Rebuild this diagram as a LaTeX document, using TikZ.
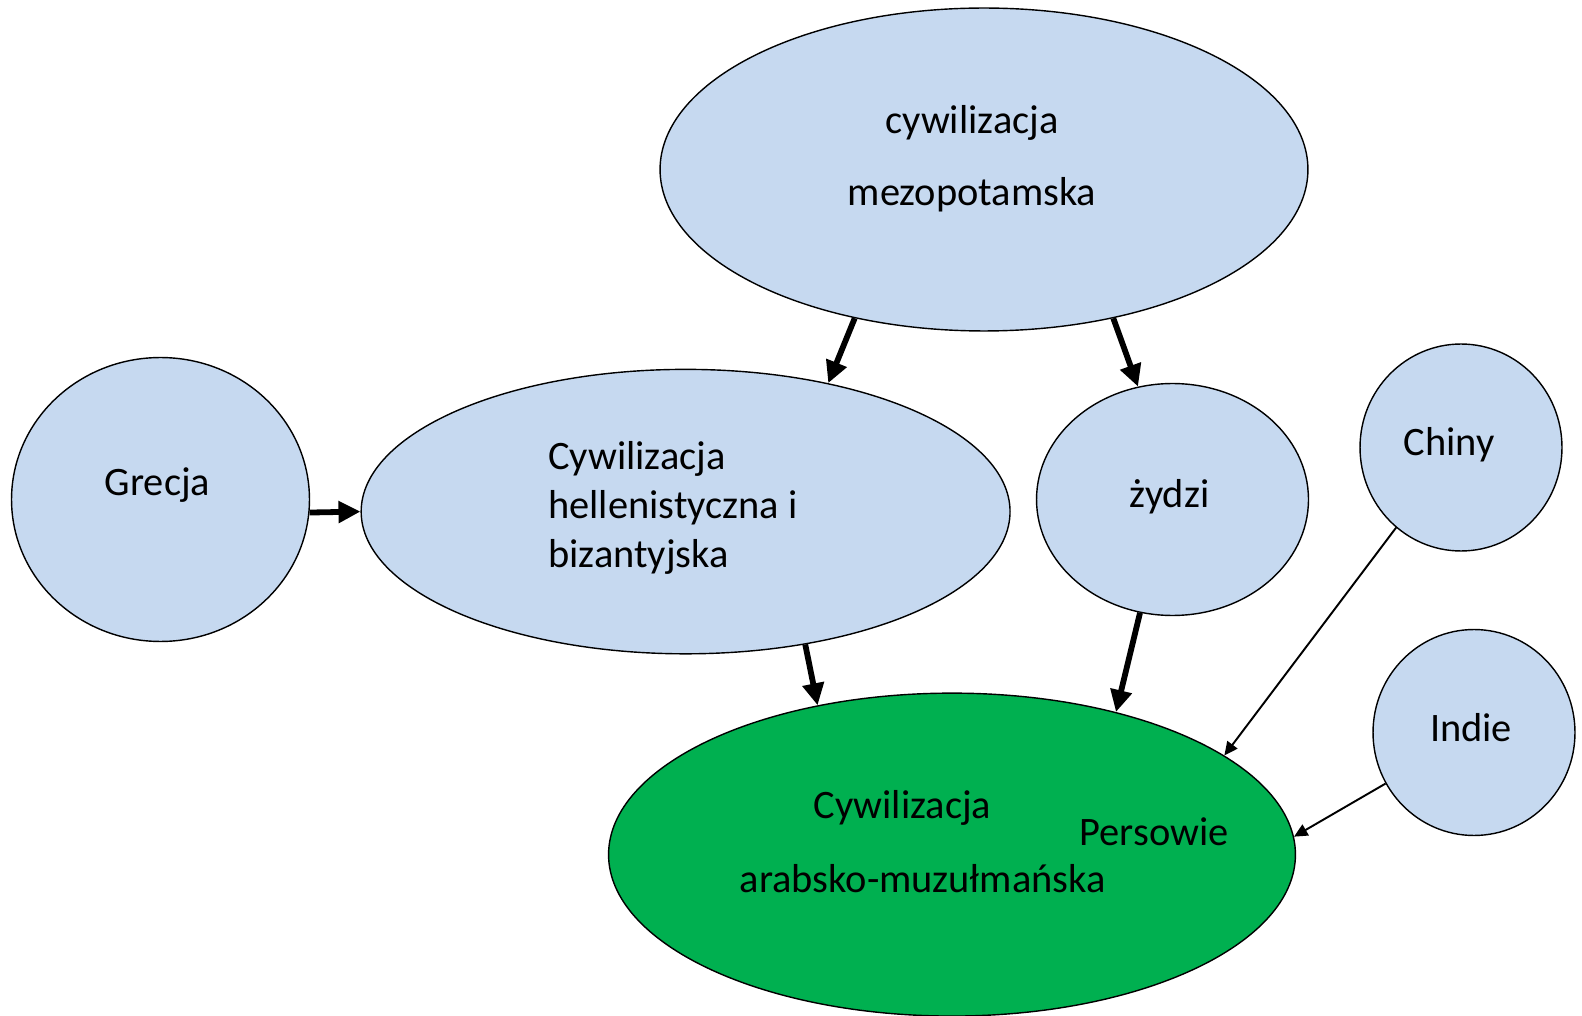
\documentclass[tikz,border=0pt]{standalone}
\usepackage{fontspec}
\setmainfont{Carlito}
\usetikzlibrary{shapes.geometric,arrows.meta}
\definecolor{civblue}{RGB}{198,217,240}
\definecolor{civgreen}{RGB}{0,176,80}
\begin{document}
\begin{tikzpicture}[x=0.02cm, y=-0.02cm,
		civ/.style={ellipse, draw, line width=.8pt, fill=civblue, inner sep=0pt},
		txt/.style={anchor=base, inner sep=0pt, font=\fontsize{23}{28}\selectfont},
		bigarrow/.style={line width=3.3pt, -{Triangle[length=.44cm, width=.42cm]}},
		thinarrow/.style={line width=1.1pt, -{Triangle[length=.27cm, width=.25cm]}}]
	\useasboundingbox (0, 0) rectangle (1582, 1016);

		% the shapes
		\node[civ, minimum width=12.96cm, minimum height=6.46cm](mezo) at(984, 169.5){};
		\node[civ, minimum width=5.96cm, minimum height=5.68cm](grecja) at(160.5, 499.5){};
		\node[civ, minimum width=12.98cm, minimum height=5.69cm](hellen) at(685.6, 511.6){};
		\node[civ, minimum width=5.44cm, minimum height=4.64cm](zydzi) at(1172.5, 499.5){};
		\node[civ, minimum width=4.04cm, minimum height=4.14cm](chiny) at(1461, 447.5){};
		\node[civ, minimum width=4.04cm, minimum height=4.12cm](indie) at(1474, 732.5){};
		\node[civ, fill=civgreen, minimum width=13.74cm, minimum height=6.46cm](arab) at(952, 854.6){};

		% the texts
		\node[txt](mezoA) at(972, 134){cywilizacja};
		\node[txt](mezoB) at(972, 206){mezopotamska};
		\node[txt](grecjaA) at(157.5, 496){Grecja};
		\node[txt, anchor=base west](hellenA) at(548, 470){Cywilizacja};
		\node[txt, anchor=base west](hellenB) at(548, 519){hellenistyczna i};
		\node[txt, anchor=base west](hellenC) at(548, 567){bizantyjska};
		\node[txt](zydziA) at(1169.4, 508){żydzi};
		\node[txt](chinyA) at(1449, 456){Chiny};
		\node[txt](indieA) at(1471, 741){Indie};
		\node[txt](arabA) at(902.6, 818){Cywilizacja};
		\node[txt](arabB) at(922.8, 892.5){arabsko-muzułmańska};
		\node[txt](persowie) at(1154, 845){Persowie};

		% the arrows
		\draw[bigarrow](mezo.229) to (hellen.42);
		\draw[bigarrow](mezo.311) to (zydzi.107);
		\draw[bigarrow](grecja.-5) to (hellen.180);
		\draw[bigarrow](hellen.312) to (arab.132.5);
		\draw[bigarrow](zydzi.254) to (arab.41);
		\draw[thinarrow](chiny.231.5) to (arab.20.2);
		\draw[thinarrow](indie.210.6) to (arab.3.5);
	\end{tikzpicture}
\end{document}
